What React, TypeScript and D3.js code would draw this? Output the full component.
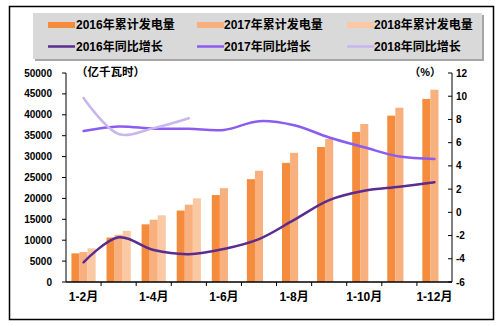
import React from "react";
import * as d3 from "d3";

const categories = ["1-2月", "1-3月", "1-4月", "1-5月", "1-6月", "1-7月", "1-8月", "1-9月", "1-10月", "1-11月", "1-12月"];
const gen2016 = [6850, 10650, 13800, 17100, 20800, 24600, 28500, 32300, 35900, 39800, 43800];
const gen2017 = [7180, 11300, 14900, 18500, 22450, 26600, 30900, 34200, 37800, 41700, 46000];
const gen2018 = [8070, 12250, 15950, 20000, null, null, null, null, null, null, null];
const yoy2016 = [-4.3, -2.15, -3.25, -3.6, -3.15, -2.3, -0.65, 1.05, 1.85, 2.2, 2.6];
const yoy2017 = [7.0, 7.4, 7.2, 7.2, 7.1, 7.85, 7.5, 6.45, 5.6, 4.8, 4.6];
const yoy2018 = [9.85, 6.75, 7.25, 8.1, null, null, null, null, null, null, null];
const leftTicks = [0, 5000, 10000, 15000, 20000, 25000, 30000, 35000, 40000, 45000, 50000];
const rightTicks = [-6, -4, -2, 0, 2, 4, 6, 8, 10, 12];
const barNames = ["2016年累计发电量", "2017年累计发电量", "2018年累计发电量"];
const lineNames = ["2016年同比增长", "2017年同比增长", "2018年同比增长"];

const barColors = ["#F58B3C", "#F8B07E", "#FAC9A3"];
const lineColors = ["#5B2C8F", "#8B5CF0", "#C9B6EE"];

export default function App() {
  const X0 = 66, X1 = 452, YT = 73, YB = 282;
  const x = d3.scaleBand<string>().domain(categories).range([X0, X1]).paddingInner(0).paddingOuter(0);
  const bw = x.bandwidth();
  const inner = d3.scaleBand<string>().domain(["0", "1", "2"]).range([bw * 0.155, bw * 0.845]);
  const yL = d3.scaleLinear().domain([0, 50000]).range([YB, YT]);
  const yR = d3.scaleLinear().domain([-6, 12]).range([YB, YT]);
  const barSeries = [gen2016, gen2017, gen2018];
  const lineSeries = [yoy2016, yoy2017, yoy2018];
  const cx = (i: number) => (x(categories[i]) as number) + bw / 2;
  const lineGen = d3
    .line<number | null>()
    .defined((d) => d !== null)
    .x((_, i) => cx(i))
    .y((d) => yR(d as number))
    .curve(d3.curveCatmullRom.alpha(0.5));
  const font = "Arial, 'Liberation Sans', 'Noto Sans CJK SC', sans-serif";
  const legendCols = [48, 197, 347];
  const legendText = [76, 224, 374];
  const legendRows = [25, 46.5];

  return (
    <svg width={504} height={326} style={{ position: "absolute", left: 0, top: 0 }} fontFamily={font}>
      <rect x={0} y={0} width={504} height={326} fill="#fff" />
      <rect x={9.5} y={6.5} width={484} height={313} fill="#fff" stroke="#000" strokeWidth={1.5} />
      {/* legend */}
      <rect x={35} y={15} width={449} height={46} fill="#A6A6A6" />
      <rect x={33} y={13} width={449} height={46} fill="#D9D9D9" />
      {barNames.map((n, i) => (
        <g key={n}>
          <rect x={legendCols[i]} y={legendRows[0] - 3} width={27} height={6} fill={barColors[i]} />
          <text x={legendText[i]} y={legendRows[0]} dy="0.35em" fontSize={12} fontWeight="bold" fill="#000">{n}</text>
        </g>
      ))}
      {lineNames.map((n, i) => (
        <g key={n}>
          <line x1={legendCols[i]} x2={legendCols[i] + 27} y1={legendRows[1]} y2={legendRows[1]} stroke={lineColors[i]} strokeWidth={2.5} />
          <text x={legendText[i]} y={legendRows[1]} dy="0.35em" fontSize={12} fontWeight="bold" fill="#000">{n}</text>
        </g>
      ))}
      {/* bars */}
      {barSeries.map((s, si) =>
        s.map((v, i) =>
          v === null ? null : (
            <rect
              key={`${si}-${i}`}
              x={(x(categories[i]) as number) + (inner(String(si)) as number)}
              y={yL(v)}
              width={inner.bandwidth()}
              height={YB - yL(v)}
              fill={barColors[si]}
            />
          )
        )
      )}
      {/* lines */}
      {lineSeries.map((s, si) => (
        <path key={si} d={lineGen(s) || ""} fill="none" stroke={lineColors[si]} strokeWidth={2.5} strokeLinecap="round" />
      ))}
      {/* axes */}
      <line x1={X0} x2={X0} y1={YT} y2={YB} stroke="#000" strokeWidth={1} />
      <line x1={X1} x2={X1} y1={YT} y2={YB} stroke="#000" strokeWidth={1} />
      <line x1={X0} x2={X1} y1={YB} y2={YB} stroke="#000" strokeWidth={1.5} />
      {leftTicks.map((t) => (
        <g key={t}>
          <line x1={X0 - 4} x2={X0} y1={yL(t)} y2={yL(t)} stroke="#000" />
          <text x={52} y={yL(t)} dy="0.35em" textAnchor="end" fontSize={10} fontWeight="bold">{t}</text>
        </g>
      ))}
      {rightTicks.map((t) => (
        <g key={t}>
          <line x1={X1 - 4} x2={X1} y1={yR(t)} y2={yR(t)} stroke="#000" />
          <text x={456} y={yR(t)} dy="0.35em" textAnchor="start" fontSize={10} fontWeight="bold">{t}</text>
        </g>
      ))}
      {categories.map((c, i) =>
        i === 0 ? null : (
          <line key={c} x1={x(c) as number} x2={x(c) as number} y1={YB} y2={YB + 4} stroke="#000" />
        )
      )}
      {categories.map((c, i) =>
        i % 2 === 0 ? (
          <text key={c} x={cx(i)} y={297} dy="0.35em" textAnchor="middle" fontSize={12} fontWeight="bold">{c}</text>
        ) : null
      )}
      <text x={76} y={72} dy="0.35em" fontSize={11.5} fontWeight="bold">（亿千瓦时）</text>
      <text x={441} y={72} dy="0.35em" textAnchor="end" fontSize={11} fontWeight="bold">（%）</text>
    </svg>
  );
}
